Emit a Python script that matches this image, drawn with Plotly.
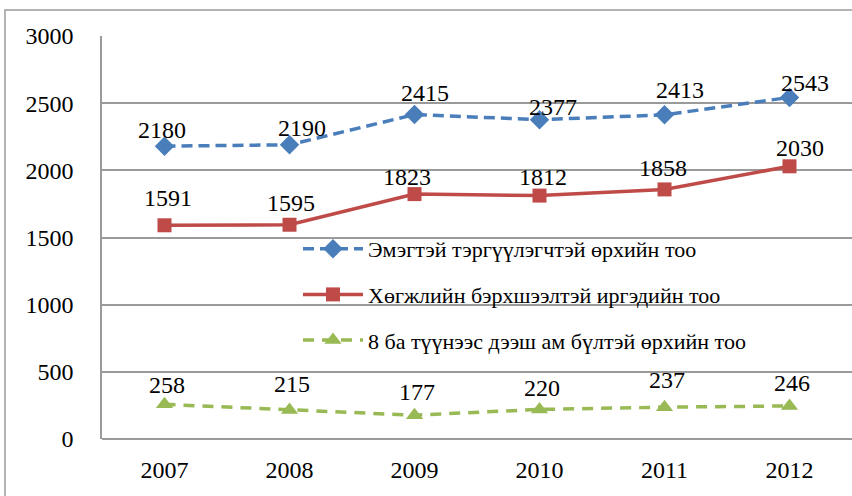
import plotly.graph_objects as go

years = ['2007', '2008', '2009', '2010', '2011', '2012']
female_headed = [2180, 2190, 2415, 2377, 2413, 2543]
disabled = [1591, 1595, 1823, 1812, 1858, 2030]
large_households = [258, 215, 177, 220, 237, 246]

names = [
    'Эмэгтэй тэргүүлэгчтэй өрхийн тоо',
    'Хөгжлийн бэрхшээлтэй иргэдийн тоо',
    '8 ба түүнээс дээш ам бүлтэй өрхийн тоо',
]

W, H = 852, 496
L, T, R, B = 102, 36, 0, 57
pw, ph = W - L - R, H - T - B

FONT = '"Times New Roman", "Liberation Serif", serif'

series = [
    dict(y=female_headed, name=names[0], color='#4A7EBB', dash='11px,6px',
         symbol='diamond', size=15,
         dx=[-3, 12, 10, 13, 15, 15], dy=[16, 17, 22, 13, 25, 14]),
    dict(y=disabled, name=names[1], color='#BE4B48', dash='solid',
         symbol='square', size=14,
         dx=[3, 1, -8, 3, -2, 10], dy=[27, 22, 17, 19, 21, 18]),
    dict(y=large_households, name=names[2], color='#98B954', dash='11px,8px',
         symbol='triangle-up', size=15,
         dx=[2, 2, 2, 2, 2, 2], dy=[19, 26, 23, 21, 27, 23]),
]

fig = go.Figure()
for s in series:
    fig.add_trace(go.Scatter(
        x=years, y=s['y'], name=s['name'], legendgroup=s['name'],
        mode='lines+markers',
        line=dict(color=s['color'], width=3.5, dash=s['dash']),
        marker=dict(symbol=s['symbol'], size=s['size'], color=s['color']),
    ))
    # data labels (category index as x position)
    for i, (v, dx, dy) in enumerate(zip(s['y'], s['dx'], s['dy'])):
        fig.add_annotation(x=i, y=v, text=str(v), showarrow=False,
                           xanchor='center', yanchor='middle',
                           xshift=dx, yshift=dy,
                           font=dict(size=24, family=FONT, color='black'))

# outer chart border
fig.add_shape(type='rect', xref='paper', yref='paper',
              x0=(5 - L) / pw, x1=(W + 5 - L) / pw,
              y0=-(H + 5 - T - ph) / ph, y1=1 + (T - 10) / ph,
              line=dict(color='#9a9a9a', width=1.5), layer='below')

fig.update_layout(
    width=W, height=H,
    margin=dict(l=L, r=R, t=T, b=B),
    paper_bgcolor='white', plot_bgcolor='white',
    font=dict(family=FONT, color='black', size=21),
    showlegend=True,
    legend=dict(
        x=(298 - L) / pw, y=(H - B - 228) / ph, xanchor='left', yanchor='top',
        bgcolor='rgba(0,0,0,0)', font=dict(size=22, family=FONT, color='black'),
        tracegroupgap=14, itemwidth=60,
    ),
    xaxis=dict(
        type='category', range=[-0.5, 5.5], showgrid=False,
        tickfont=dict(size=24, family=FONT, color='black'), ticklabelstandoff=14,
        showline=False, zeroline=False,
    ),
    yaxis=dict(
        range=[0, 3000], dtick=500, showgrid=True, gridcolor='#9a9a9a', gridwidth=1.5,
        tickfont=dict(size=24, family=FONT, color='black'), ticklabelstandoff=22,
        showline=True, linecolor='#9a9a9a', linewidth=1.5,
        zeroline=True, zerolinecolor='#9a9a9a', zerolinewidth=1.5,
    ),
)

fig.write_html('out.html', config={'displayModeBar': False},
               post_script="document.body.style.margin='0px';")
